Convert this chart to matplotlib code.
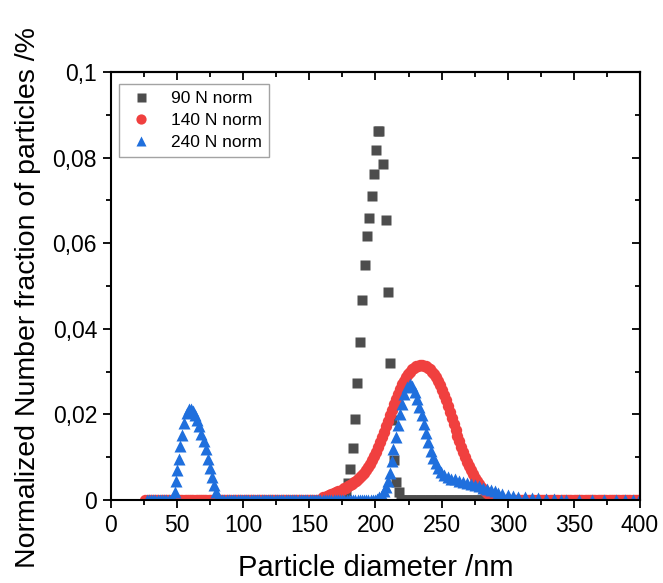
import numpy as np
import matplotlib
matplotlib.use('Agg')
import matplotlib.pyplot as plt
from matplotlib.ticker import MultipleLocator, FixedLocator, FixedFormatter

plt.rcParams['font.family'] = ['Liberation Sans', 'DejaVu Sans']

# ---- data --------------------------------------------------------------
# 90 N norm (grey squares)
x90_peak = [177.5, 179.0, 180.8, 182.7, 184.3, 186.0, 188.1, 189.5, 191.9, 193.3,
            194.9, 197.0, 198.6, 200.3, 201.6, 203.0, 205.4, 207.8, 209.2, 210.8,
            212.4, 213.8, 215.7, 217.8]
y90_peak = [0.0021, 0.0039, 0.0072, 0.0122, 0.0189, 0.0274, 0.0370, 0.0468, 0.0549, 0.0617,
            0.0660, 0.0711, 0.0762, 0.0817, 0.0861, 0.0861, 0.0786, 0.0655, 0.0485, 0.0320,
            0.0187, 0.0094, 0.0043, 0.0019]
x90_zero_lo = np.arange(168.0, 177.0, 1.7)
x90_zero_hi = np.arange(219.5, 286.0, 1.7)

# 140 N norm (red circles), bins every 1.5 nm starting at 160 nm
x140_start, x140_step = 160.0, 1.5
y140_peak = [0.0007, 0.0008, 0.0010, 0.0011, 0.0013, 0.0014, 0.0016, 0.0018, 0.0020, 0.0022,
             0.0024, 0.0027, 0.0029, 0.0032, 0.0035, 0.0038, 0.0041, 0.0044, 0.0049, 0.0053,
             0.0058, 0.0064, 0.0070, 0.0077, 0.0085, 0.0093, 0.0103, 0.0113, 0.0124, 0.0136,
             0.0148, 0.0160, 0.0172, 0.0185, 0.0198, 0.0211, 0.0224, 0.0236, 0.0248, 0.0259,
             0.0270, 0.0279, 0.0287, 0.0294, 0.0300, 0.0305, 0.0309, 0.0312, 0.0314, 0.0315,
             0.0315, 0.0314, 0.0312, 0.0309, 0.0305, 0.0300, 0.0294, 0.0287, 0.0279, 0.0269,
             0.0258, 0.0246, 0.0233, 0.0219, 0.0205, 0.0191, 0.0177, 0.0163, 0.0150, 0.0137,
             0.0124, 0.0112, 0.0100, 0.0089, 0.0079, 0.0069, 0.0060, 0.0052, 0.0044, 0.0037,
             0.0031, 0.0026, 0.0021, 0.0017, 0.0013, 0.0010, 0.0008, 0.0006, 0.0004, 0.0003,
             0.0002]
x140_zero_lo = np.arange(26.0, 159.0, 1.65)
x140_zero_hi = np.arange(297.0, 400.5, 1.65)

# 240 N norm (blue triangles)
x240_peak1 = [47.0, 48.4, 49.3, 50.2, 51.2, 52.3, 53.7, 55.4, 57.2, 59.0, 60.5, 62.0,
              63.6, 65.2, 66.8, 68.4, 70.0, 71.6, 73.2, 74.8, 76.4, 78.0, 79.6, 81.2]
y240_peak1 = [0.0003, 0.0019, 0.0044, 0.0070, 0.0096, 0.0125, 0.0152, 0.0180, 0.0203, 0.0212,
              0.0212, 0.0207, 0.0199, 0.0187, 0.0172, 0.0154, 0.0138, 0.0118, 0.0096, 0.0074,
              0.0053, 0.0034, 0.0018, 0.0007]
x240_peak2 = [201.0, 203.0, 205.0, 206.8, 208.2, 209.7, 211.0, 212.2, 213.5, 215.3, 217.1,
              218.5, 219.8, 221.5, 223.5, 225.8, 227.8, 229.8, 231.5, 233.2, 234.9, 236.6,
              238.3, 240.0, 241.8, 243.7, 245.6, 247.6, 249.7, 252.0, 254.5, 257.0, 260.0,
              263.0, 266.0, 269.0, 272.0, 275.0, 278.0, 281.0, 284.0, 287.0, 290.0, 293.0,
              296.0, 300.0, 304.0, 308.0, 313.0, 318.0, 323.0, 329.0, 335.0, 340.0,
              344.0, 354.0, 364.0, 373.0, 382.0, 389.0, 395.0, 399.0]
y240_peak2 = [0.0003, 0.0006, 0.0012, 0.0020, 0.0030, 0.0045, 0.0063, 0.0090, 0.0118, 0.0146,
              0.0176, 0.0201, 0.0225, 0.0248, 0.0264, 0.0272, 0.0266, 0.0252, 0.0236, 0.0218,
              0.0198, 0.0177, 0.0156, 0.0135, 0.0115, 0.0099, 0.0086, 0.0075, 0.0066, 0.0059,
              0.0054, 0.0050, 0.0048, 0.0045, 0.0043, 0.0040, 0.0038, 0.0035, 0.0032, 0.0029,
              0.0026, 0.0023, 0.0020, 0.0017, 0.0015, 0.0012, 0.0010, 0.0008, 0.0006, 0.0005,
              0.0004, 0.0003, 0.0002, 0.0001,
              0.0, 0.0, 0.0, 0.0, 0.0, 0.0, 0.0, 0.0]
x240_zero_lo = np.arange(27.0, 46.5, 1.65)
x240_zero_mid = np.arange(82.5, 200.0, 1.65)

ytick_vals = [0, 0.02, 0.04, 0.06, 0.08, 0.1]
ytick_labels = ['0', '0,02', '0,04', '0,06', '0,08', '0,1']

# ---- assemble series ----------------------------------------------------
def series(parts):
    xs = np.concatenate([np.asarray(p[0], float) for p in parts])
    ys = np.concatenate([np.asarray(p[1], float) if p[1] is not None
                         else np.zeros(len(p[0])) for p in parts])
    order = np.argsort(xs)
    return xs[order], ys[order]

x140_peak = x140_start + x140_step * np.arange(len(y140_peak))

x90, y90 = series([(x90_zero_lo, None), (x90_peak, y90_peak), (x90_zero_hi, None)])
x140, y140 = series([(x140_zero_lo, None), (x140_peak, y140_peak), (x140_zero_hi, None)])
x240, y240 = series([(x240_zero_lo, None), (x240_peak1, y240_peak1),
                     (x240_zero_mid, None), (x240_peak2, y240_peak2)])

# ---- plot ---------------------------------------------------------------
fig = plt.figure(figsize=(6.63, 5.83), dpi=100)
ax = fig.add_axes([0.1674, 0.1424, 0.7979, 0.7341])

ax.plot(x90, y90, ls='none', marker='s', ms=7.2, color='#4d4d4d', mec='none', label='90 N norm')
ax.plot(x140, y140, ls='none', marker='o', ms=8.2, color='#f0403f', mec='none', label='140 N norm')
ax.plot(x240, y240, ls='none', marker='^', ms=8.4, color='#1f6fdd', mec='none', label='240 N norm')

ax.set_xlim(0, 400)
ax.set_ylim(0, 0.1)
ax.xaxis.set_major_locator(MultipleLocator(50))
ax.xaxis.set_minor_locator(MultipleLocator(25))
ax.yaxis.set_major_locator(FixedLocator(ytick_vals))
ax.yaxis.set_major_formatter(FixedFormatter(ytick_labels))
ax.yaxis.set_minor_locator(MultipleLocator(0.01))

for s in ax.spines.values():
    s.set_linewidth(1.5)

ax.tick_params(which='both', direction='out', width=1.3, labelsize=16.5, colors='black')
ax.tick_params(which='major', length=6, pad=4)
ax.tick_params(which='minor', length=3.5)

# inward ticks on the top and right frame
top = ax.secondary_xaxis('top')
top.xaxis.set_major_locator(MultipleLocator(50))
top.xaxis.set_minor_locator(MultipleLocator(25))
top.tick_params(which='both', direction='in', width=1.3, labeltop=False)
top.tick_params(which='major', length=6)
top.tick_params(which='minor', length=3.5)
top.spines['top'].set_linewidth(1.5)
right = ax.secondary_yaxis('right')
right.yaxis.set_major_locator(FixedLocator(ytick_vals))
right.yaxis.set_minor_locator(MultipleLocator(0.01))
right.tick_params(which='both', direction='in', width=1.3, labelright=False)
right.tick_params(which='major', length=6)
right.tick_params(which='minor', length=3.5)
right.spines['right'].set_linewidth(1.5)

ax.set_xlabel('Particle diameter /nm', fontsize=21, va='baseline')
ax.xaxis.set_label_coords(0.5, -0.1776)
ax.set_ylabel('Normalized Number fraction of particles /%', fontsize=20.5,
              va='baseline', ha='center')
ax.yaxis.set_label_coords(-0.1427, 0.474)

leg = ax.legend(loc='upper left', bbox_to_anchor=(0.015, 0.972), borderaxespad=0,
                fontsize=12.5, frameon=True, fancybox=False, edgecolor='#8c8c8c',
                handletextpad=0.8, labelspacing=0.4, borderpad=0.4,
                handlelength=1.8, markerscale=0.9)
leg.get_frame().set_linewidth(1.0)

fig.savefig('out.png', dpi=100)
